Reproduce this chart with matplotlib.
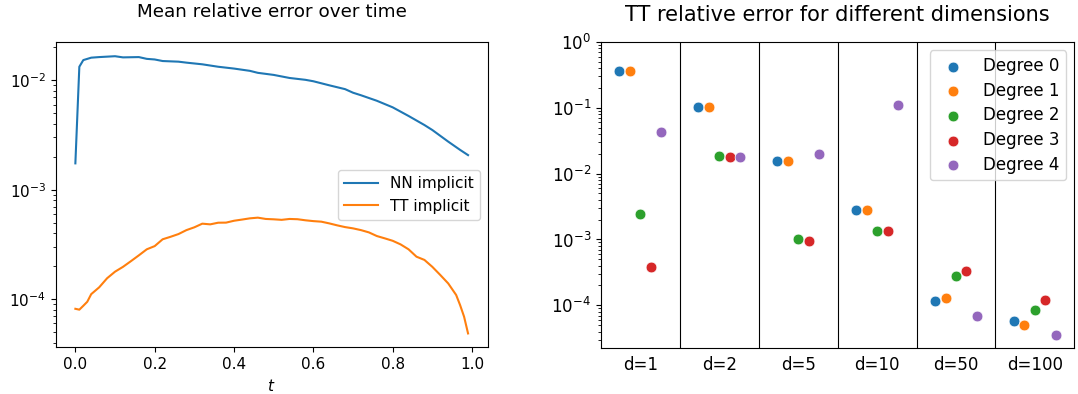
import matplotlib.pyplot as plt
import numpy as np

plt.rcParams['font.size'] = 11

# left panel: mean relative error over time
t_nn = np.array([0.0, 0.01, 0.02, 0.04, 0.06, 0.10, 0.12, 0.16, 0.18, 0.20,
                 0.22, 0.26, 0.28, 0.32, 0.36, 0.40, 0.44, 0.46, 0.50, 0.54,
                 0.58, 0.60, 0.64, 0.68, 0.70, 0.72, 0.76, 0.80, 0.84, 0.88,
                 0.90, 0.94, 0.97, 0.99])
nn_err = np.array([1.74e-3, 1.33e-2, 1.53e-2, 1.61e-2, 1.63e-2, 1.66e-2, 1.62e-2,
                   1.63e-2, 1.57e-2, 1.55e-2, 1.50e-2, 1.48e-2, 1.45e-2, 1.40e-2,
                   1.33e-2, 1.28e-2, 1.22e-2, 1.17e-2, 1.12e-2, 1.05e-2, 1.01e-2,
                   9.8e-3, 9.0e-3, 8.3e-3, 7.7e-3, 7.3e-3, 6.5e-3, 5.66e-3,
                   4.72e-3, 3.9e-3, 3.51e-3, 2.75e-3, 2.31e-3, 2.07e-3])

t_tt = np.array([0.0, 0.01, 0.02, 0.03, 0.04, 0.06, 0.08, 0.10, 0.12, 0.14,
                 0.16, 0.18, 0.20, 0.22, 0.24, 0.26, 0.28, 0.30, 0.32, 0.34,
                 0.36, 0.38, 0.40, 0.42, 0.44, 0.46, 0.48, 0.50, 0.52, 0.54,
                 0.56, 0.58, 0.60, 0.62, 0.64, 0.66, 0.68, 0.70, 0.72, 0.74,
                 0.76, 0.78, 0.80, 0.82, 0.84, 0.86, 0.88, 0.90, 0.92, 0.94,
                 0.96, 0.97, 0.98, 0.99])
tt_err = np.array([8.15e-5, 8.0e-5, 8.68e-5, 9.45e-5, 1.11e-4, 1.28e-4, 1.55e-4,
                   1.78e-4, 1.97e-4, 2.22e-4, 2.51e-4, 2.85e-4, 3.05e-4, 3.52e-4,
                   3.71e-4, 3.93e-4, 4.27e-4, 4.53e-4, 4.89e-4, 4.82e-4, 4.99e-4,
                   5.0e-4, 5.2e-4, 5.33e-4, 5.47e-4, 5.55e-4, 5.4e-4, 5.36e-4,
                   5.3e-4, 5.4e-4, 5.37e-4, 5.25e-4, 5.16e-4, 5.1e-4, 4.92e-4,
                   4.72e-4, 4.55e-4, 4.43e-4, 4.27e-4, 4.07e-4, 3.77e-4, 3.59e-4,
                   3.41e-4, 3.16e-4, 2.85e-4, 2.44e-4, 2.28e-4, 1.97e-4, 1.66e-4,
                   1.39e-4, 1.09e-4, 8.8e-5, 6.9e-5, 4.85e-5])

# right panel: TT error per dimension and degree
dims = ["d=1", "d=2", "d=5", "d=10", "d=50", "d=100"]
degrees = [0, 1, 2, 3, 4]
deg0 = [0.365, 0.103, 0.0154, 2.82e-3, 1.16e-4, 5.8e-5]
deg1 = [0.36, 0.102, 0.0154, 2.85e-3, 1.28e-4, 4.94e-5]
deg2 = [2.48e-3, 0.0186, 1.02e-3, 1.36e-3, 2.77e-4, 8.5e-5]
deg3 = [3.85e-4, 0.0179, 9.5e-4, 1.33e-3, 3.34e-4, 1.22e-4]
deg4 = [0.0427, 0.0178, 0.0197, 0.110, 6.9e-5, 3.6e-5]
tt_dims = [deg0, deg1, deg2, deg3, deg4]

fig = plt.figure(figsize=(10.78, 3.94), dpi=100)
ax1 = fig.add_axes([0.0517, 0.1185, 0.4007, 0.774])
ax2 = fig.add_axes([0.5575, 0.1175, 0.4391, 0.7759])

ax1.plot(t_nn, nn_err, label="NN implicit")
ax1.plot(t_tt, tt_err, label="TT implicit")
ax1.set_yscale("log")
ax1.set_xlabel("$t$")
ax1.set_title("Mean relative error over time", pad=18)
ax1.legend(loc="center right", handlelength=2.2)

x = np.arange(len(dims))
for k, vals in enumerate(tt_dims):
    ax2.scatter(x + (k - 2) * 0.133, vals, s=60, edgecolor="white",
                linewidth=0.5, zorder=3, label=f"Degree {degrees[k]}")
for b in x[:-1] + 0.5:
    ax2.axvline(b, color="k", lw=0.8)
ax2.set_yscale("log")
ax2.set_ylim(top=1)
ax2.set_xlim(-0.5, len(dims) - 0.5)
ax2.set_xticks(x)
ax2.set_xticklabels(dims)
ax2.tick_params(labelsize=12)
ax2.tick_params(axis="x", length=0, pad=6)
ax2.set_title("TT relative error for different dimensions", fontsize=15, pad=15)
ax2.legend(loc="upper right", fontsize=12, labelspacing=0.4)

fig.savefig("out.png")
